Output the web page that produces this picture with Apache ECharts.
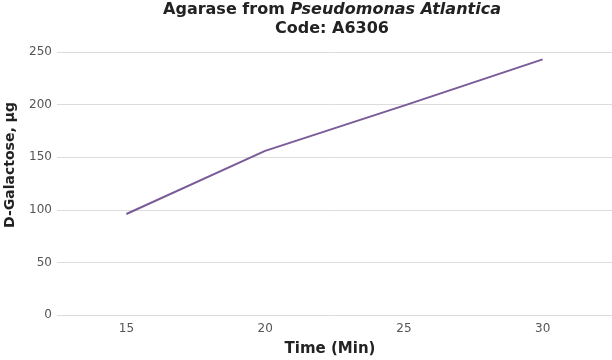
<!DOCTYPE html>
<html><head><meta charset="utf-8">
<script src="https://cdn.jsdelivr.net/npm/echarts@6/dist/echarts.min.js"></script>
<style>html,body{margin:0;padding:0;background:#fff}#c{width:612px;height:360px}</style>
</head><body><div id="c"></div>
<script>
const categories = ['15', '20', '25', '30'];
const galactose = [96, 156, 199, 243];
const yTicks = [0, 50, 100, 150, 200, 250];

const chart = echarts.init(document.getElementById('c'), null, {renderer: 'canvas'});
const FONT = 'DejaVu Sans';
chart.setOption({
  backgroundColor: '#fff',
  animation: false,
  grid: {left: 57, right: 0, top: 52, bottom: 45, containLabel: false},
  graphic: [
    {type: 'text', x: 332, y: 2, style: {
      text: '{b|Agarase from }{i|Pseudomonas Atlantica}',
      rich: {
        b: {fontFamily: FONT, fontWeight: 'bold', fontSize: 16, fill: '#222'},
        i: {fontFamily: FONT, fontWeight: 'bold', fontStyle: 'italic', fontSize: 16, fill: '#222'}
      },
      align: 'center', verticalAlign: 'top'
    }},
    {type: 'text', x: 332, y: 21, style: {
      text: 'Code: A6306', fontFamily: FONT, fontWeight: 'bold', fontSize: 16, fill: '#222',
      align: 'center', verticalAlign: 'top'
    }},
    {type: 'text', x: 3, y: 165, rotation: Math.PI / 2, style: {
      text: 'D-Galactose, µg', fontFamily: FONT, fontWeight: 'bold', fontSize: 14,
      fill: '#222', align: 'center', verticalAlign: 'top'
    }},
    {type: 'text', x: 330, y: 342, style: {
      text: 'Time (Min)', fontFamily: FONT, fontWeight: 'bold', fontSize: 15,
      fill: '#222', align: 'center', verticalAlign: 'top'
    }}
  ],
  xAxis: {
    type: 'category', data: categories, boundaryGap: true,
    axisLine: {show: false}, axisTick: {show: false},
    axisLabel: {color: '#555', fontFamily: FONT, fontSize: 12, margin: 8}
  },
  yAxis: {
    type: 'value', min: yTicks[0], max: yTicks[yTicks.length - 1], interval: 50,
    axisLine: {show: false}, axisTick: {show: false},
    axisLabel: {color: '#555', fontFamily: FONT, fontSize: 12, margin: 5},
    splitLine: {lineStyle: {color: '#dcdcdc', width: 1}}
  },
  series: [{
    type: 'line', data: galactose, symbol: 'none',
    lineStyle: {color: '#7a5b98', width: 2}
  }]
});
</script></body></html>
